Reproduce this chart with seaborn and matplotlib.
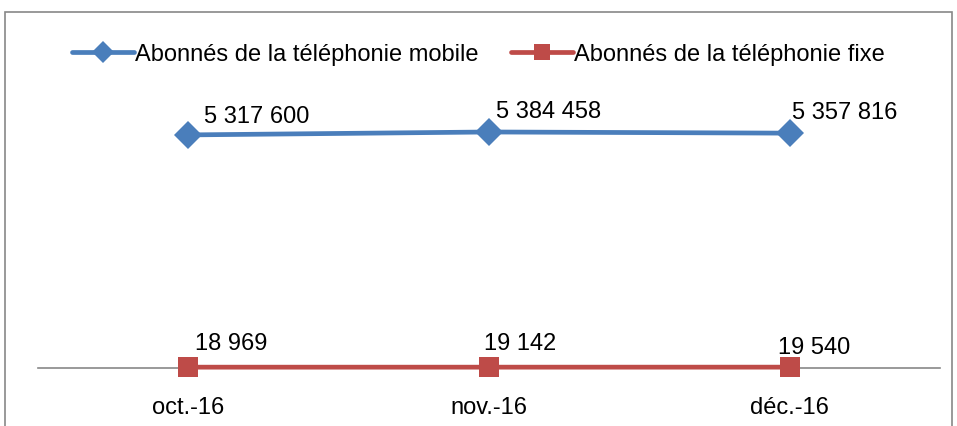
import pandas as pd
import matplotlib.pyplot as plt
import seaborn as sns
from matplotlib.patches import Rectangle

# Data
months = ['oct.-16', 'nov.-16', 'déc.-16']
mobile = [5317600, 5384458, 5357816]
fixe = [18969, 19142, 19540]
mobile_labels = ['5 317 600', '5 384 458', '5 357 816']
fixe_labels = ['18 969', '19 142', '19 540']

sns.set_theme(style='white')
plt.rcParams['font.family'] = ['Liberation Sans', 'DejaVu Sans']
plt.rcParams['text.color'] = 'black'

df = pd.DataFrame({'mois': months * 2,
                   'valeur': mobile + fixe,
                   'serie': ['Abonnés de la téléphonie mobile'] * 3 + ['Abonnés de la téléphonie fixe'] * 3})

fig = plt.figure(figsize=(9.57, 4.27), dpi=100)
ax = fig.add_axes([38 / 957, 58 / 427, 902 / 957, 263 / 427])

# frame around the chart
fig.patches.append(Rectangle((5 / 957, -0.01), 947 / 957, 1.0 - 13 / 427 + 0.01, transform=fig.transFigure,
                             fill=False, edgecolor='#888888', linewidth=1.2))

blue = '#4a7ebb'
red = '#be4b48'
sns.lineplot(data=df, x='mois', y='valeur', hue='serie', style='serie',
             palette=[blue, red], markers=['D', 's'], dashes=False,
             linewidth=3.4, markersize=14.5, markeredgewidth=0, ax=ax, sort=False)
for ln in ax.lines:
    ln.set_clip_on(False)
    ln.set_zorder(5)

ax.set_xlim(-0.5, 2.5)
ax.set_ylim(0, 6000000)
ax.set_xlabel('')
ax.set_ylabel('')
ax.set_yticks([])
for s in ['top', 'right', 'left']:
    ax.spines[s].set_visible(False)
ax.spines['bottom'].set_color('#888888')
ax.spines['bottom'].set_linewidth(1.2)
ax.tick_params(axis='x', length=0, pad=20, labelsize=17, colors='black')

# data labels
m_off = [(16, 8), (7, 10), (2, 10)]
f_off = [(7, 13), (-5, 13), (-12, 9)]
for i in range(3):
    ax.annotate(mobile_labels[i], (i, mobile[i]), xytext=m_off[i], textcoords='offset pixels',
                ha='left', va='bottom', fontsize=17, color='black')
    ax.annotate(fixe_labels[i], (i, fixe[i]), xytext=f_off[i], textcoords='offset pixels',
                ha='left', va='bottom', fontsize=17, color='black')

leg = ax.legend(loc='center', bbox_to_anchor=(0.5, (427 - 55) / 427), bbox_transform=fig.transFigure,
                ncol=2, frameon=False, fontsize=17, handlelength=2.6, handletextpad=0.05,
                columnspacing=1.4, markerscale=0.8)

fig.savefig('out.png', dpi=100)
